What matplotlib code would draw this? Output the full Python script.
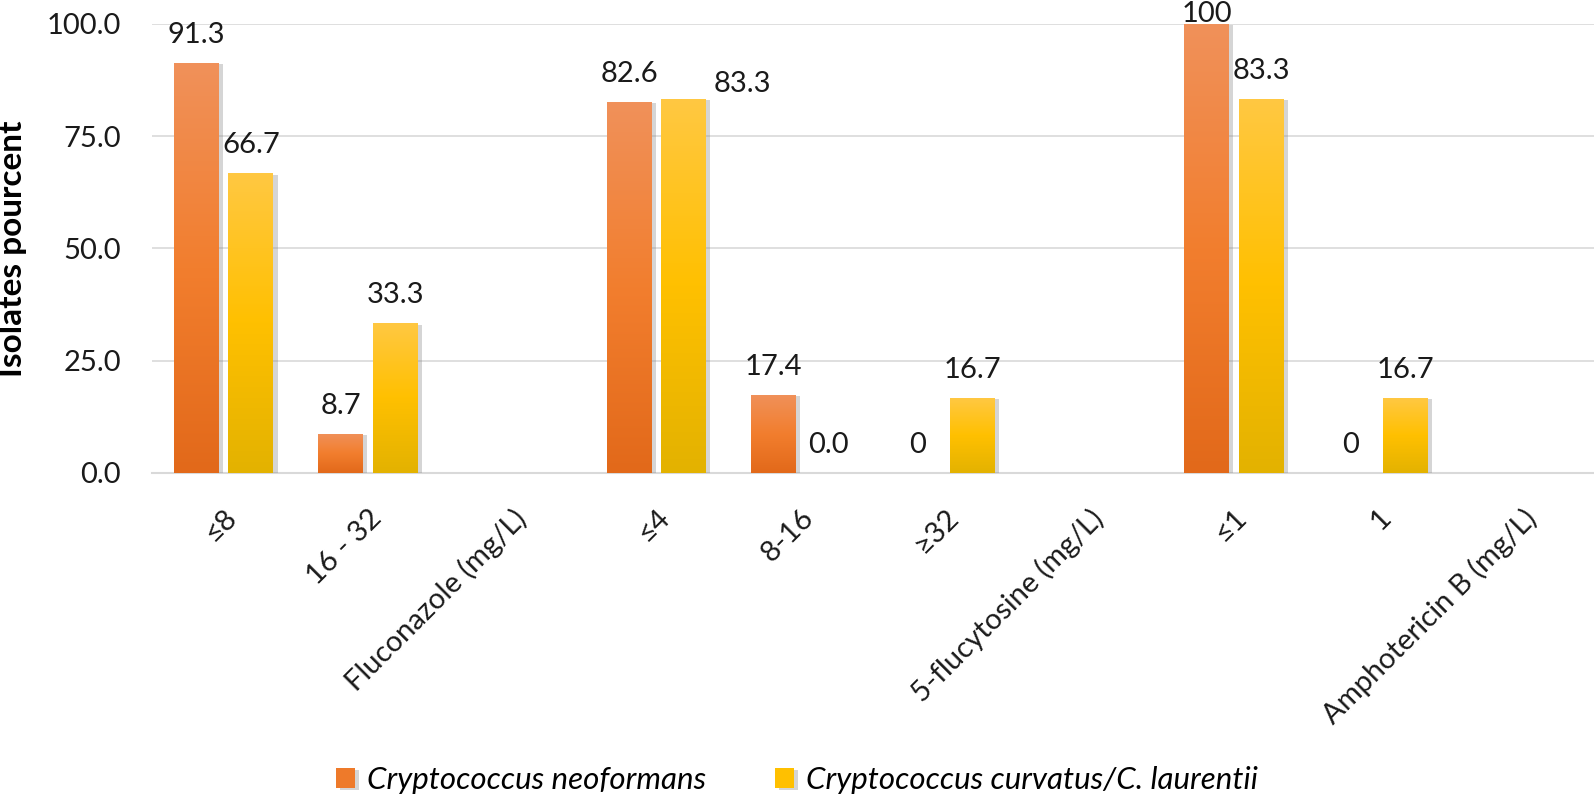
import numpy as np
import matplotlib
matplotlib.use("Agg")
import matplotlib.pyplot as plt
import matplotlib.patheffects as pe
from matplotlib.colors import LinearSegmentedColormap

categories = ["≤8", "16 - 32", "Fluconazole (mg/L)", "≤4", "8-16", "≥32",
              "5-flucytosine (mg/L)", "≤1", "1", "Amphotericin B (mg/L)"]
neoformans = [91.3, 8.7, None, 82.6, 17.4, 0, None, 100, 0, None]
neoformans_labels = ["91.3", "8.7", "", "82.6", "17.4", "0", "", "100", "0", ""]
curvatus = [66.7, 33.3, None, 83.3, 0.0, 16.7, None, 83.3, 16.7, None]
curvatus_labels = ["66.7", "33.3", "", "83.3", "0.0", "16.7", "", "83.3", "16.7", ""]
series_names = ["Cryptococcus neoformans", "Cryptococcus curvatus/C. laurentii"]
yticks = [0, 25, 50, 75, 100]

# manual label nudges (series index, category index) -> (dx px, dy px)
label_nudges = {(1, 3): (59, -13)}

plt.rcParams['font.family'] = ['Lato', 'DejaVu Sans']

W, H = 1594, 806
fig = plt.figure(figsize=(W / 100, H / 100), dpi=100)
ax_l, ax_b, ax_w, ax_h = 151.5 / W, 1 - 472.7 / H, 1443 / W, 448.7 / H
ax = fig.add_axes([ax_l, ax_b, ax_w, ax_h])

x = np.arange(len(categories))
width = 0.311
offset = 0.189

cmaps = [
    LinearSegmentedColormap.from_list("o", ["#E2691A", "#F27E2E", "#F0915A"]),
    LinearSegmentedColormap.from_list("y", ["#E3B200", "#FFC000", "#FFC842"]),
]
legend_colors = ["#EE7A2A", "#FFC000"]

grad = np.linspace(0, 1, 256).reshape(-1, 1)
PT = 0.72  # points per pixel at dpi 100

for si, (vals, labs) in enumerate([(neoformans, neoformans_labels), (curvatus, curvatus_labels)]):
    pos = x + (-offset if si == 0 else offset)
    hv = [v if v is not None else 0 for v in vals]
    bars = ax.bar(pos, hv, width, color=legend_colors[si], zorder=3,
                  label=series_names[si], linewidth=0)
    for ci, (b, v, lab) in enumerate(zip(bars, vals, labs)):
        if v is None:
            b.set_visible(False)
            continue
        h = b.get_height()
        if h > 0:
            b.set_path_effects([pe.SimplePatchShadow(offset=(3, -1), shadow_rgbFace="#888888", alpha=0.35), pe.Normal()])
            x0 = b.get_x()
            im = ax.imshow(grad, extent=[x0, x0 + b.get_width(), 0, h], origin='lower',
                           aspect='auto', cmap=cmaps[si], zorder=4, interpolation='bilinear')
            im.set_clip_path(b)
        top_px = (1 - (ax_b + ax_h * h / 100.0)) * H
        off_px = min(20, top_px - 22)
        dx, dy = label_nudges.get((si, ci), (0, 0))
        ax.annotate(lab, (b.get_x() + b.get_width() / 2, h),
                    xytext=(dx * PT, (off_px + dy) * PT),
                    textcoords='offset points', ha='center', va='baseline',
                    fontsize=21, color='#1a1a1a', annotation_clip=False, zorder=6)

ax.set_xlim(-0.5, len(categories) - 0.5)
ax.set_ylim(0, 100)
ax.set_yticks(yticks)
ax.set_yticklabels([f"{t:.1f}" for t in yticks], fontsize=21, color='#1a1a1a')
ax.set_xticks(x)
ax.set_xticklabels(categories, rotation=45, ha='right', va='top',
                   rotation_mode='anchor', fontsize=21, color='#1a1a1a')
ax.tick_params(axis='both', length=0)
ax.tick_params(axis='y', pad=22)
ax.tick_params(axis='x', pad=23)
ax.yaxis.grid(True, color='#D9D9D9', linewidth=1.2, zorder=0)
ax.set_axisbelow(True)
for s in ['top', 'right', 'left']:
    ax.spines[s].set_visible(False)
ax.spines['bottom'].set_color('#D9D9D9')
ax.spines['bottom'].set_linewidth(1.5)
ax.set_ylabel("Isolates pourcent", fontsize=24, fontweight='bold')
ax.yaxis.set_label_coords(-0.086, 0.5)

handles, labels = ax.get_legend_handles_labels()
leg = fig.legend(handles, labels, loc='center', bbox_to_anchor=(0.50, 0.032), ncol=2,
                 frameon=False, prop={'style': 'italic', 'size': 22.5}, handlelength=0.6,
                 handleheight=0.6, handletextpad=0.4, columnspacing=2.2,
                 borderpad=0)

fig.savefig("out.png", dpi=100)
